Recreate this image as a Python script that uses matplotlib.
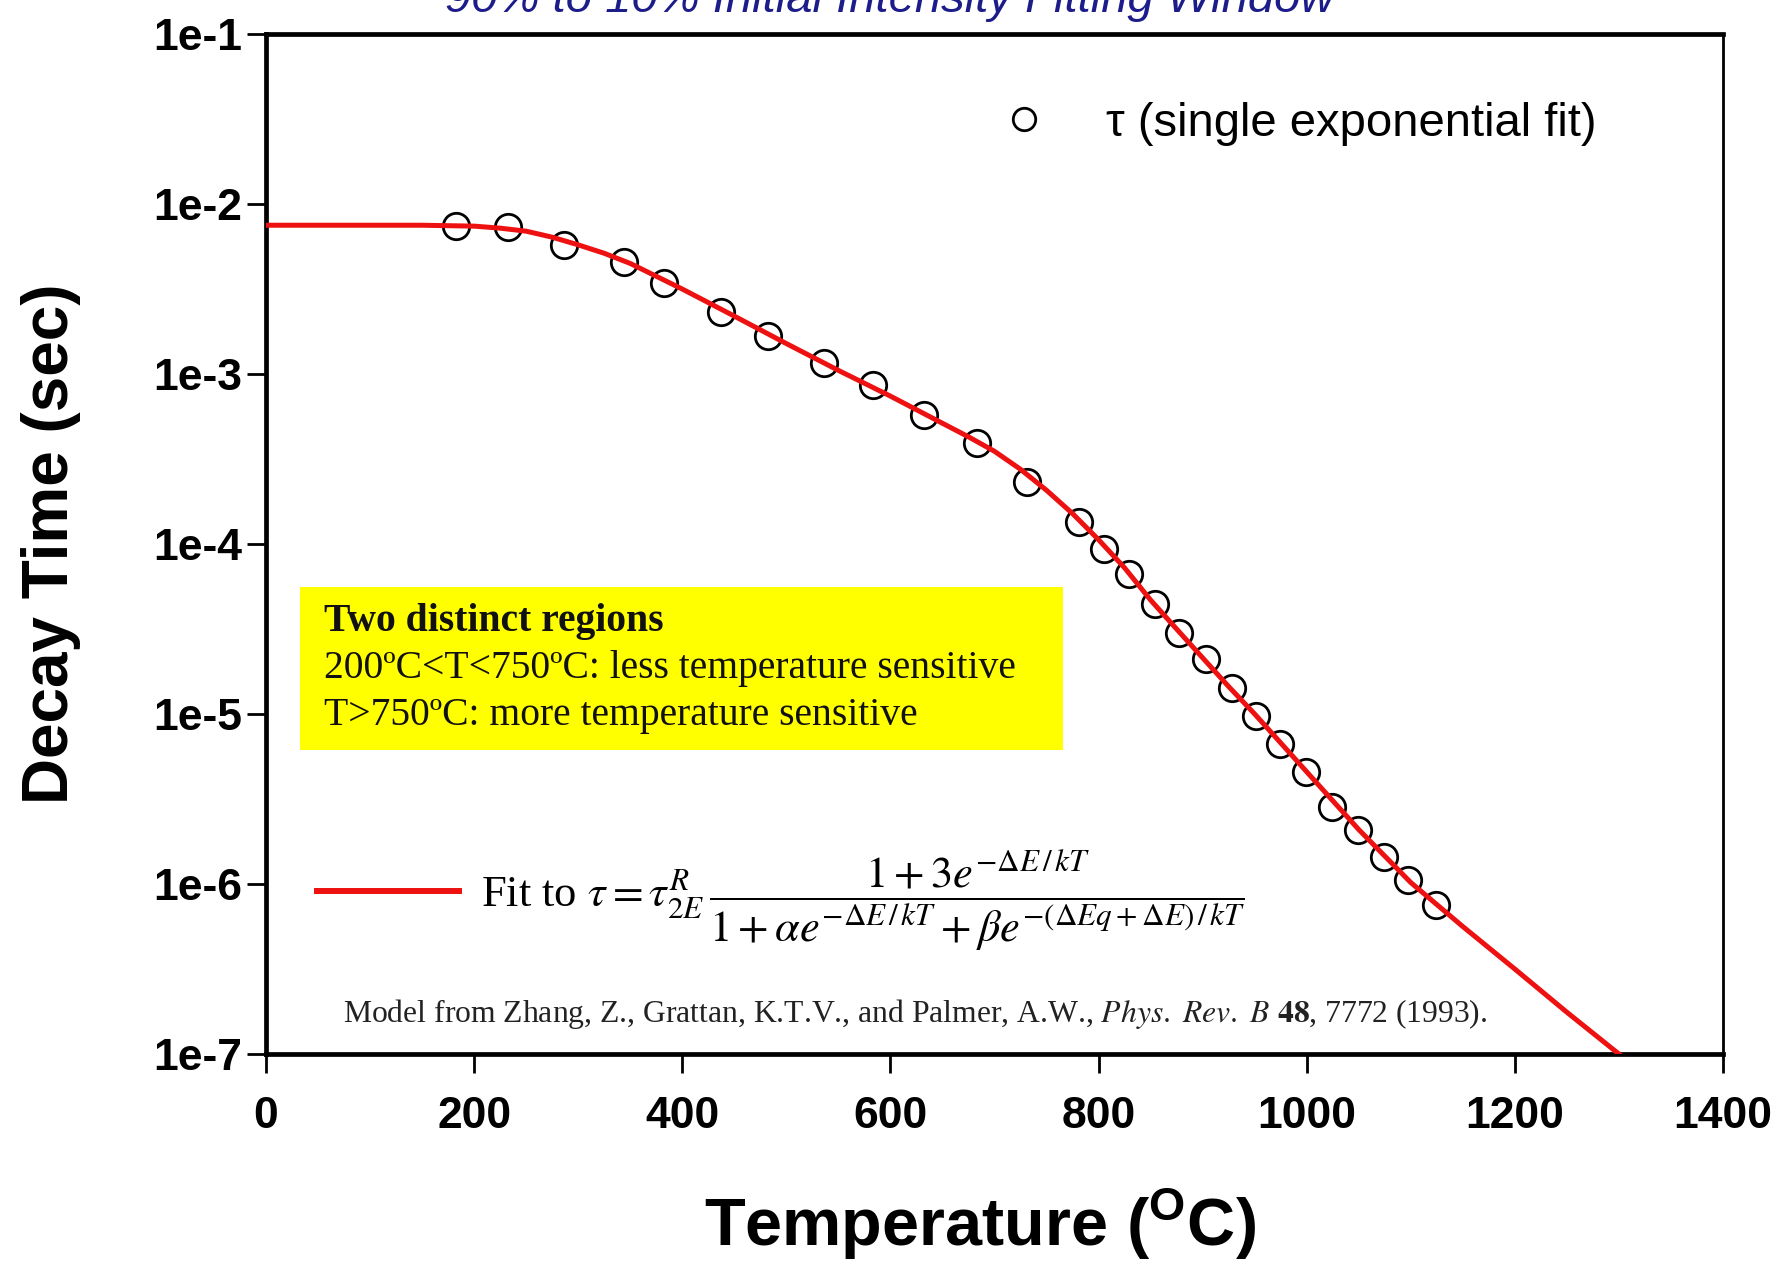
import matplotlib
matplotlib.use("Agg")
import matplotlib.pyplot as plt
from matplotlib.font_manager import FontProperties
from matplotlib.patches import Rectangle

# ---- data -------------------------------------------------------------
# measured decay times (single exponential fit)
temp_meas = [183, 233, 286, 344, 382, 437, 482, 536, 583, 632, 683, 731, 781,
             805, 829, 854, 877, 903, 928, 951, 974, 999, 1024, 1049, 1074,
             1097, 1124]
tau_meas = [7.45e-3, 7.29e-3, 5.74e-3, 4.58e-3, 3.41e-3, 2.33e-3, 1.68e-3,
            1.156e-3, 8.61e-4, 5.74e-4, 3.91e-4, 2.33e-4, 1.35e-4, 9.31e-5,
            6.67e-5, 4.44e-5, 2.99e-5, 2.10e-5, 1.42e-5, 9.77e-6, 6.67e-6,
            4.54e-6, 2.84e-6, 2.09e-6, 1.45e-6, 1.06e-6, 7.52e-7]

# model curve
temp_fit = [0, 100, 150, 200, 225, 250, 275, 300, 325, 350, 400, 450, 500,
            550, 600, 650, 675, 700, 725, 750, 775, 800, 825, 850, 875, 900,
            925, 950, 975, 1000, 1050, 1100, 1150, 1200, 1250, 1300]
tau_fit = [7.50e-3, 7.50e-3, 7.50e-3, 7.41e-3, 7.21e-3, 6.92e-3, 6.38e-3,
           5.75e-3, 5.13e-3, 4.47e-3, 3.16e-3, 2.19e-3, 1.51e-3, 1.05e-3,
           7.41e-4, 5.13e-4, 4.27e-4, 3.51e-4, 2.75e-4, 2.07e-4, 1.51e-4,
           1.06e-4, 7.24e-5, 4.68e-5, 3.16e-5, 2.14e-5, 1.45e-5, 1.00e-5,
           6.76e-6, 4.57e-6, 2.09e-6, 1.02e-6, 5.62e-7, 3.16e-7, 1.76e-7,
           1.00e-7]

x_ticks = [0, 200, 400, 600, 800, 1000, 1200, 1400]
y_ticks = [1e-7, 1e-6, 1e-5, 1e-4, 1e-3, 1e-2, 1e-1]
y_tick_labels = ["1e-7", "1e-6", "1e-5", "1e-4", "1e-3", "1e-2", "1e-1"]

# ---- figure -----------------------------------------------------------
W, H = 1777, 1265
plt.rcParams["font.family"] = ["Liberation Sans", "DejaVu Sans"]
plt.rcParams["mathtext.fontset"] = "custom"
plt.rcParams["mathtext.rm"] = "Liberation Sans"
plt.rcParams["mathtext.bf"] = "Liberation Sans:bold"
plt.rcParams["mathtext.it"] = "Liberation Sans:italic"


def fx(px):
    return px / W


def fy(py):
    return 1 - py / H


fig = plt.figure(figsize=(W / 100, H / 100), dpi=100)
ax = fig.add_axes([fx(266), fy(1054), fx(1723) - fx(266), fy(34) - fy(1054)])

markers, = ax.plot(temp_meas, tau_meas, linestyle="none", marker="o",
                   markersize=19, markerfacecolor="none",
                   markeredgecolor="black", markeredgewidth=2.0, zorder=2,
                   label="τ (single exponential fit)")
fit_line, = ax.plot(temp_fit, tau_fit, color="#ee1111", linewidth=3.6,
                    zorder=3,
                    label=r"Fit to $\tau = \tau_{2E}^{R}\,\dfrac{1+3e^{-\Delta E\,/\,kT}}"
                          r"{1+\alpha e^{-\Delta E\,/\,kT}+\beta e^{-(\Delta Eq+\Delta E)\,/\,kT}}$")

ax.set_yscale("log")
ax.set_xlim(0, 1400)
ax.set_ylim(1e-7, 1e-1)
ax.set_xticks(x_ticks)
ax.set_xticklabels([str(v) for v in x_ticks])
ax.set_yticks(y_ticks)
ax.set_yticklabels(y_tick_labels)
ax.minorticks_off()
ax.tick_params(axis="both", direction="out", length=14, width=2,
               labelsize=32)
ax.tick_params(axis="y", pad=3)
ax.tick_params(axis="x", pad=16)
for lab in ax.get_xticklabels() + ax.get_yticklabels():
    lab.set_fontweight("bold")

for side in ("left", "top", "bottom"):
    ax.spines[side].set_linewidth(3.4)
ax.spines["right"].set_linewidth(2.0)

# axis titles
fig.text(fx(51), fy(544), "Decay Time (sec)", rotation=90, ha="center",
         va="center", fontsize=46, fontweight="bold")
fig.text(fx(980), fy(1224), r"Temperature ($^{\mathbf{O}}$C)", ha="center",
         va="center", fontsize=48, fontweight="bold")

# heading
fig.text(fx(890), fy(12), "90% to 10% Initial Intensity Fitting Window",
         ha="center", va="baseline", fontsize=34, style="italic",
         color="#1c1c8a")

# legend for the measured points
leg1 = ax.legend(handles=[markers], loc="center left",
                 bbox_to_anchor=(fx(1000), fy(124)),
                 bbox_transform=fig.transFigure, frameon=False,
                 prop=FontProperties(family="Liberation Sans", size=34),
                 handlelength=1.0, handletextpad=1.25, borderpad=0,
                 borderaxespad=0, markerscale=0.85)
ax.add_artist(leg1)

# legend for the model curve
leg2 = ax.legend(handles=[fit_line], loc="center left",
                 bbox_to_anchor=(fx(317), fy(901)),
                 bbox_transform=fig.transFigure, frameon=False,
                 prop=FontProperties(family="Liberation Serif", size=32,
                                     math_fontfamily="stix"),
                 handlelength=3.2, handletextpad=0.5, borderpad=0,
                 borderaxespad=0)
for h in leg2.legend_handles:
    h.set_linewidth(4.3)

# highlighted note
fig.patches.append(Rectangle((fx(300), fy(750)), fx(1063) - fx(300),
                             fy(587) - fy(750), transform=fig.transFigure,
                             facecolor="#ffff00", edgecolor="none",
                             zorder=1))
serif = ["Liberation Serif", "DejaVu Serif"]
fig.text(fx(324), fy(631), "Two distinct regions", family=serif,
         fontsize=28.5, fontweight="bold", va="baseline", color="#111111")
fig.text(fx(324), fy(678), "200ºC<T<750ºC: less temperature sensitive",
         family=serif, fontsize=28.5, va="baseline", color="#111111")
fig.text(fx(324), fy(725), "T>750ºC: more temperature sensitive",
         family=serif, fontsize=28.5, va="baseline", color="#111111")

# reference
fig.text(fx(343), fy(1014),
         r"Model from Zhang, Z., Grattan, K.T.V., and Palmer, A.W., "
         r"$\mathit{Phys.\ Rev.\ B}$ $\mathbf{48}$, 7772 (1993).",
         family=serif, fontsize=22.8, va="center", color="#222222",
         math_fontfamily="stix")

fig.savefig("out.png", dpi=100)
